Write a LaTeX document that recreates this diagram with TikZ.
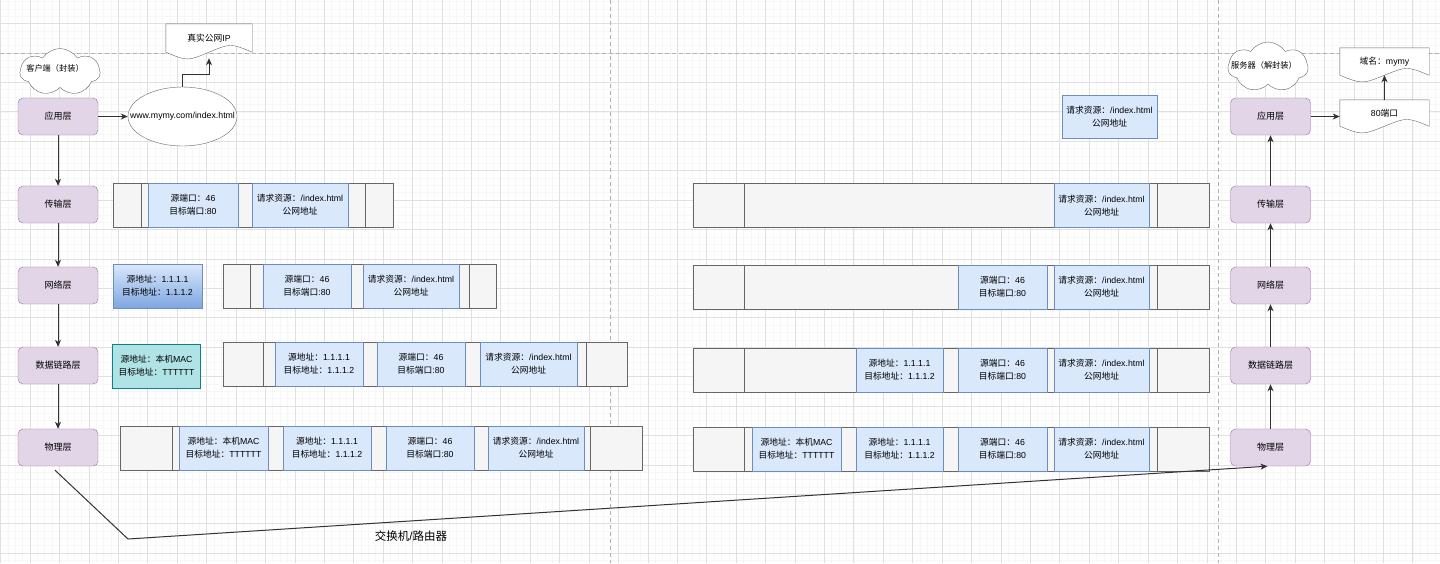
\documentclass[tikz,border=0pt]{standalone}
\usepackage{fontspec}
\setmainfont{Liberation Sans}
\newfontfamily\cjkfont{Noto Sans CJK SC}
\usetikzlibrary{shapes.geometric,shapes.symbols,arrows.meta,calc,backgrounds}

% switch to the CJK font for Chinese characters
\XeTeXinterchartokenstate=1
\newXeTeXintercharclass\cjkcls
\newcount\cjkcnt
\cjkcnt="3000
\loop\XeTeXcharclass\cjkcnt=\cjkcls \ifnum\cjkcnt<"303F \advance\cjkcnt by 1 \repeat
\cjkcnt="4E00
\loop\XeTeXcharclass\cjkcnt=\cjkcls \ifnum\cjkcnt<"9FFF \advance\cjkcnt by 1 \repeat
\cjkcnt="FF00
\loop\XeTeXcharclass\cjkcnt=\cjkcls \ifnum\cjkcnt<"FFEF \advance\cjkcnt by 1 \repeat
\XeTeXinterchartoks 0 \cjkcls = {\cjkfont}
\XeTeXinterchartoks 4095 \cjkcls = {\cjkfont}
\XeTeXinterchartoks \cjkcls 0 = {\rmfamily}
\XeTeXinterchartoks \cjkcls 4095 = {\rmfamily}

\definecolor{layfill}{HTML}{E1D5E7}
\definecolor{laybd}{HTML}{9673A6}
\definecolor{blufill}{HTML}{DAE8FC}
\definecolor{blubd}{HTML}{6C8EBF}
\definecolor{gradlo}{HTML}{7EA6E0}
\definecolor{barfill}{HTML}{F5F5F5}
\definecolor{barbd}{HTML}{666666}
\definecolor{tealfill}{HTML}{B0E3E6}
\definecolor{tealbd}{HTML}{0E8088}
\definecolor{linec}{HTML}{333333}

% wavy bottom of a document box
\newcommand{\docwave}[1]{%
  \begin{scope}[on background layer]
  \draw[draw=barbd, fill=white] (#1.north west) -- (#1.north east) -- (#1.south east)
    .. controls ($(#1.south)!0.5!(#1.south east)+(0,-9)$) .. (#1.south)
    .. controls ($(#1.south west)!0.5!(#1.south)+(0,9)$) .. (#1.south west) -- cycle;
  \end{scope}}

\begin{document}
\begin{tikzpicture}[x=1pt,y=-1pt,>={Stealth[length=7pt,width=6pt,inset=2pt]}]
\tikzstyle{every node}+=[inner sep=0pt, align=center]
\tikzstyle{layer}=[draw=laybd, fill=layfill, rounded corners=5pt, minimum width=80pt, minimum height=37pt, font=\fontsize{9}{11}\selectfont]
\tikzstyle{pkt}=[draw=blubd, fill=blufill, minimum width=89pt, minimum height=44pt, font=\fontsize{8.75}{13}\selectfont]
\tikzstyle{pbar}=[draw=barbd, fill=barfill, minimum height=44pt,
  path picture={\draw[barbd] ($(path picture bounding box.north west)!0.1!(path picture bounding box.north east)$) -- ($(path picture bounding box.south west)!0.1!(path picture bounding box.south east)$)
  ($(path picture bounding box.north west)!0.9!(path picture bounding box.north east)$) -- ($(path picture bounding box.south west)!0.9!(path picture bounding box.south east)$);}]
\tikzstyle{puff}=[cloud, cloud puffs=7, cloud puff arc=115, cloud ignores aspect, draw=barbd, fill=white, minimum width=80pt, minimum height=47pt]
\tikzstyle{docbox}=[minimum width=89pt, font=\fontsize{8.75}{11}\selectfont]
\tikzstyle{conn}=[draw=linec, line width=1pt]
\tikzstyle{gridminor}=[draw=black!3, line width=0.5pt]
\tikzstyle{gridmajor}=[draw=black!12, line width=0.6pt]
\tikzstyle{sepline}=[draw=black!30, line width=0.8pt, dash pattern=on 4pt off 3pt]
\useasboundingbox (0,0) rectangle (1440,563);

% background grid
\begin{scope}[on background layer]
\fill[white] (0,0) rectangle (1440,563);
\foreach \i in {0,...,195} \draw[gridminor] ({0.6+\i*7.355},0) -- ++(0,563);
\foreach \j in {0,...,77} \draw[gridminor] (0,{-5.9+\j*7.355}) -- ++(1440,0);
\foreach \i in {0,...,48} \draw[gridmajor] ({0.6+\i*29.42},0) -- ++(0,563);
\foreach \j in {0,...,19} \draw[gridmajor] (0,{-5.9+\j*29.42}) -- ++(1440,0);
\draw[sepline] (0,53) -- (1440,53);
\draw[sepline] (610,0) -- (610,563);
\draw[sepline] (1218,0) -- (1218,563);
\end{scope}

% client side
\node[puff] (cliCloud) at (60,72) {};
\node[font=\fontsize{8.2}{10}\selectfont] (cliTxt) at (55,68) {客户端（封装）};
\node[layer] (appL) at (58,116.5) {应用层};
\node[layer] (traL) at (58,204.5) {传输层};
\node[layer] (netL) at (58,285.5) {网络层};
\node[layer] (dllL) at (58,365.5) {数据链路层};
\node[layer] (phyL) at (58,447.5) {物理层};
\draw[conn,->] (appL) -- (traL);
\draw[conn,->] (traL) -- (netL);
\draw[conn,->] (netL) -- (dllL);
\draw[conn,->] (dllL) -- (phyL);

\node[ellipse, draw=barbd, fill=white, minimum width=109pt, minimum height=59pt] (url) at (182.5,116.5) {};
\node[font=\fontsize{8.75}{11}\selectfont] (urlTxt) at (url) {www.mymy.com/index.html};
\draw[conn,->] (appL) -- (url);
\node[docbox, minimum width=86pt, minimum height=28pt] (pubIP) at (209,38) {真实公网IP};
\docwave{pubIP}
\draw[conn,->,shorten >=6pt] (url.north) -- ++(0,-12) -| (pubIP.south);

% transport layer
\node[pbar, minimum width=280pt] (traBarL) at (253,205) {};
\node[pkt, minimum width=90pt] (traPortL) at (193,205) {源端口：46\\目标端口:80};
\node[pkt, minimum width=96pt] (traReqL) at (300,205) {请求资源：/index.html\\公网地址};

% network layer
\node[pkt, top color=blufill, bottom color=gradlo] (netHdr) at (157.5,286) {源地址：1.1.1.1\\目标地址：1.1.1.2};
\node[pbar, minimum width=273pt] (netBarL) at (359.5,286) {};
\node[pkt, minimum width=88pt] (netPortL) at (307,286) {源端口：46\\目标端口:80};
\node[pkt, minimum width=96pt] (netReqL) at (411,286) {请求资源：/index.html\\公网地址};

% data link layer
\node[pkt, draw=tealbd, fill=tealfill, minimum width=88pt] (dllHdr) at (156.5,366) {源地址：本机MAC\\目标地址：TTTTTT};
\node[pbar, minimum width=404pt] (dllBarL) at (425,364) {};
\node[pkt, minimum width=88pt] (dllIpL) at (319,364) {源地址：1.1.1.1\\目标地址：1.1.1.2};
\node[pkt, minimum width=88pt] (dllPortL) at (421,364) {源端口：46\\目标端口:80};
\node[pkt, minimum width=97pt] (dllReqL) at (528.5,364) {请求资源：/index.html\\公网地址};

% physical layer
\node[pbar, minimum width=522pt] (phyBarL) at (381,448) {};
\node[pkt] (phyMacL) at (223.5,448) {源地址：本机MAC\\目标地址：TTTTTT};
\node[pkt, minimum width=88pt] (phyIpL) at (327,448) {源地址：1.1.1.1\\目标地址：1.1.1.2};
\node[pkt, minimum width=88pt] (phyPortL) at (430,448) {源端口：46\\目标端口:80};
\node[pkt, minimum width=96pt] (phyReqL) at (536,448) {请求资源：/index.html\\公网地址};

% server side
\node[puff, minimum height=50pt] (srvCloud) at (1268,67) {};
\node[font=\fontsize{8.2}{10}\selectfont] (srvTxt) at (1264,65) {服务器（解封装）};
\node[layer] (appR) at (1270.5,116.5) {应用层};
\node[layer] (traR) at (1270.5,204.5) {传输层};
\node[layer] (netR) at (1270.5,285.5) {网络层};
\node[layer] (dllR) at (1270.5,365.5) {数据链路层};
\node[layer] (phyR) at (1270.5,447.5) {物理层};
\draw[conn,->] (phyR) -- (dllR);
\draw[conn,->] (dllR) -- (netR);
\draw[conn,->] (netR) -- (traR);
\draw[conn,->] (traR) -- (appR);

\node[docbox, minimum height=26pt] (port80) at (1384.5,113) {80端口};
\docwave{port80}
\node[docbox, minimum height=27pt] (dom) at (1384.5,61.5) {域名：mymy};
\docwave{dom}
\draw[conn,->] (appR.east) -- (appR.east -| port80.west);
\draw[conn,->] (port80.north) -- (dom.south);
\node[pkt, minimum width=95pt, minimum height=43pt] (reqTop) at (1109.5,116.5) {请求资源：/index.html\\公网地址};

\node[pbar, minimum width=516pt] (traBarR) at (951,205.5) {};
\node[pkt, minimum width=95pt] (traReqR) at (1101.5,205.5) {请求资源：/index.html\\公网地址};

\node[pbar, minimum width=516pt] (netBarR) at (951,287) {};
\node[pkt] (netPortR) at (1002.5,287) {源端口：46\\目标端口:80};
\node[pkt, minimum width=95pt] (netReqR) at (1101.5,287) {请求资源：/index.html\\公网地址};

\node[pbar, minimum width=516pt] (dllBarR) at (951,370) {};
\node[pkt, minimum width=87pt] (dllIpR) at (899.5,370) {源地址：1.1.1.1\\目标地址：1.1.1.2};
\node[pkt] (dllPortR) at (1002.5,370) {源端口：46\\目标端口:80};
\node[pkt, minimum width=95pt] (dllReqR) at (1101.5,370) {请求资源：/index.html\\公网地址};

\node[pbar, minimum width=516pt] (phyBarR) at (951,449) {};
\node[pkt] (phyMacR) at (796.5,449) {源地址：本机MAC\\目标地址：TTTTTT};
\node[pkt, minimum width=87pt] (phyIpR) at (899.5,449) {源地址：1.1.1.1\\目标地址：1.1.1.2};
\node[pkt] (phyPortR) at (1002.5,449) {源端口：46\\目标端口:80};
\node[pkt, minimum width=95pt] (phyReqR) at (1101.5,449) {请求资源：/index.html\\公网地址};

% switch / router link
\coordinate (sw) at (128,539);
\draw[conn,->] ($(phyL.south)+(-3,4)$) -- (sw) -- ($(phyR.south)+(-3,0)$);
\node[font=\fontsize{11.5}{14}\selectfont] (swLbl) at (411,536) {交换机/路由器};
\end{tikzpicture}
\end{document}
